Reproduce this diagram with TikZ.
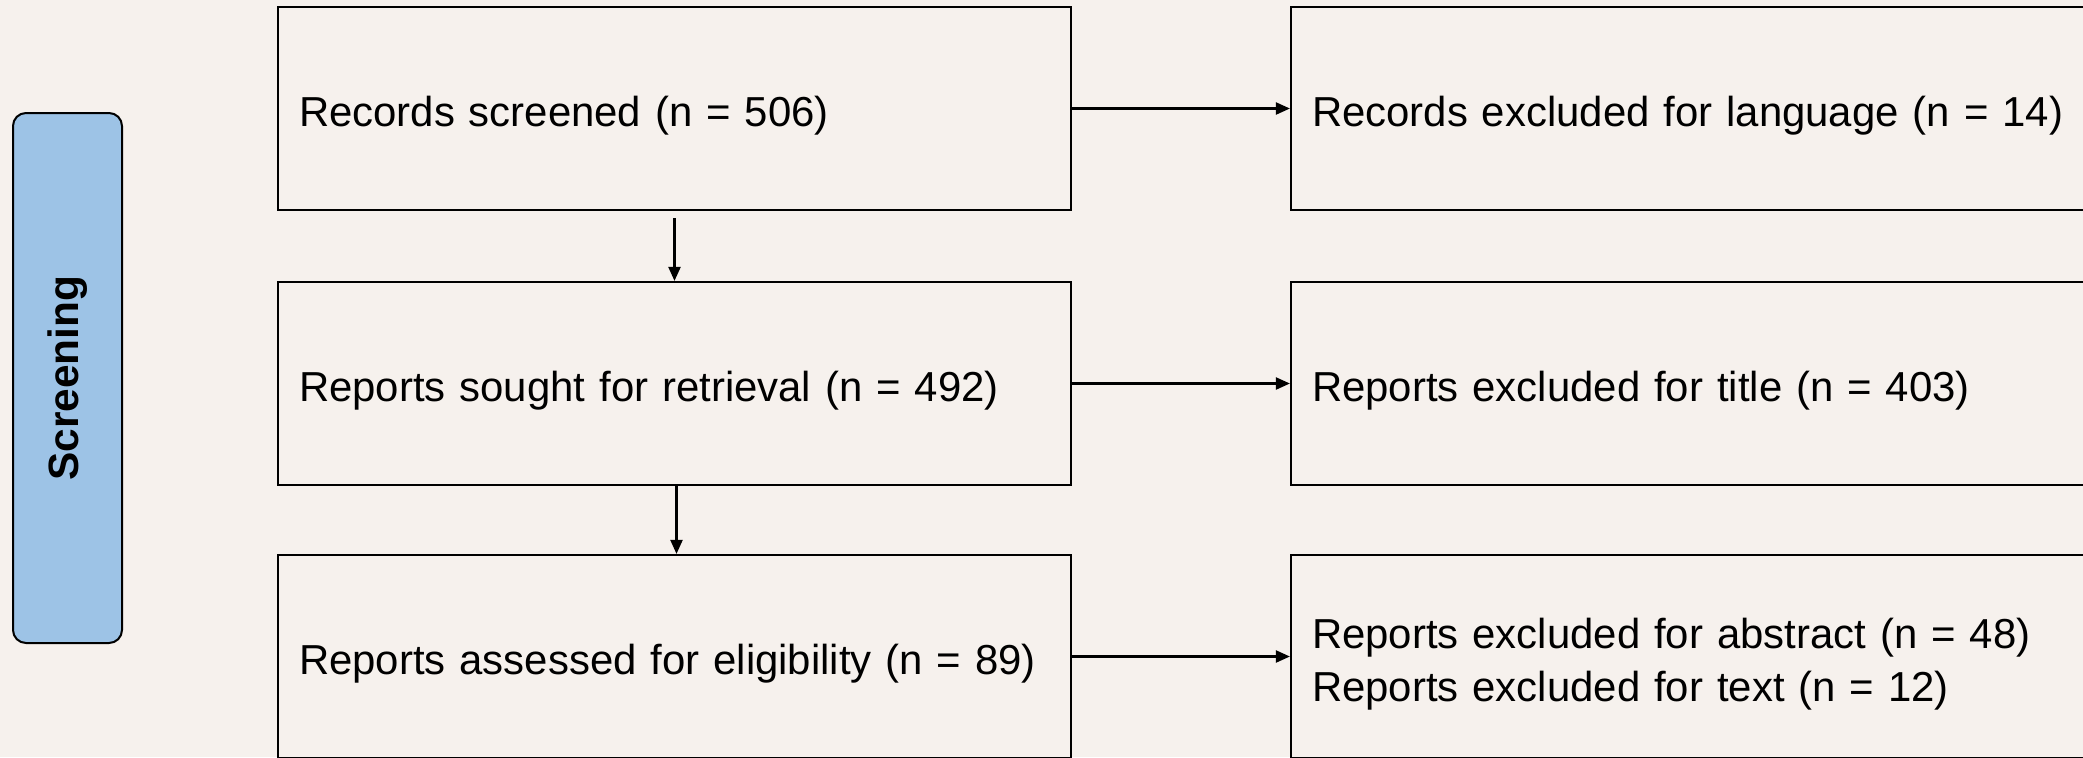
\documentclass[tikz,border=0pt]{standalone}
\usepackage{fontspec}
\setmainfont{Liberation Sans}
\usetikzlibrary{arrows.meta}
\definecolor{bg}{RGB}{246,241,237}
\definecolor{side}{RGB}{157,195,230}
\begin{document}
\begin{tikzpicture}[x=0.5pt,y=-0.5pt,
  every node/.style={font=\fontsize{20.95}{26.5}\selectfont},
  lbox/.style={draw=black, line width=1.1pt, fill=bg, minimum width=396.5pt, minimum height=101.5pt,
    text width=375.5pt, align=left, inner xsep=10.5pt, inner ysep=0pt,
    text depth=0pt, text height=18.1pt},
  rbox/.style={draw=black, line width=1.1pt, fill=bg, minimum width=409.5pt, minimum height=101.5pt,
    text width=388.5pt, align=left, inner xsep=10.5pt, inner ysep=0pt,
    text depth=0pt, text height=18.1pt},
  arr/.style={draw=black, line width=1.1pt, -{Triangle[length=7pt,width=6pt]}}]
\fill[bg] (0,0) rectangle (2083,757);
\useasboundingbox (0,0) rectangle (2083,757);
\node[draw=black, line width=1pt, fill=side, rounded corners=6.5pt, minimum width=54.5pt, minimum height=265pt] (side) at (67.5,378) {};
\node[rotate=90, font=\fontsize{21.2}{26.5}\selectfont\bfseries] (sidet) at (side.center) {Screening};
\node[lbox] (b1) at (674.5,108.5) {Records screened (n = 506)};
\node[lbox] (b2) at (674.5,383.5) {Reports sought for retrieval (n = 492)};
\node[lbox] (b3) at (674.5,656.5) {Reports assessed for eligibility (n = 89)};
\node[rbox] (r1) at (1700.5,108.5) {Records excluded for language (n = 14)};
\node[rbox] (r2) at (1700.5,383.5) {Reports excluded for title (n = 403)};
\node[rbox, text depth=26.5pt] (r3) at (1700.5,656.5) {Reports excluded for abstract (n = 48)\\Reports excluded for text (n = 12)};
\draw[arr, shorten <=3.5pt] (b1.south) -- (b2.north);
\draw[arr] ([xshift=1pt]b2.south) -- ([xshift=1pt]b3.north);
\draw[arr] (b1.east) -- (r1.west);
\draw[arr] (b2.east) -- (r2.west);
\draw[arr] (b3.east) -- (r3.west);
\end{tikzpicture}
\end{document}
